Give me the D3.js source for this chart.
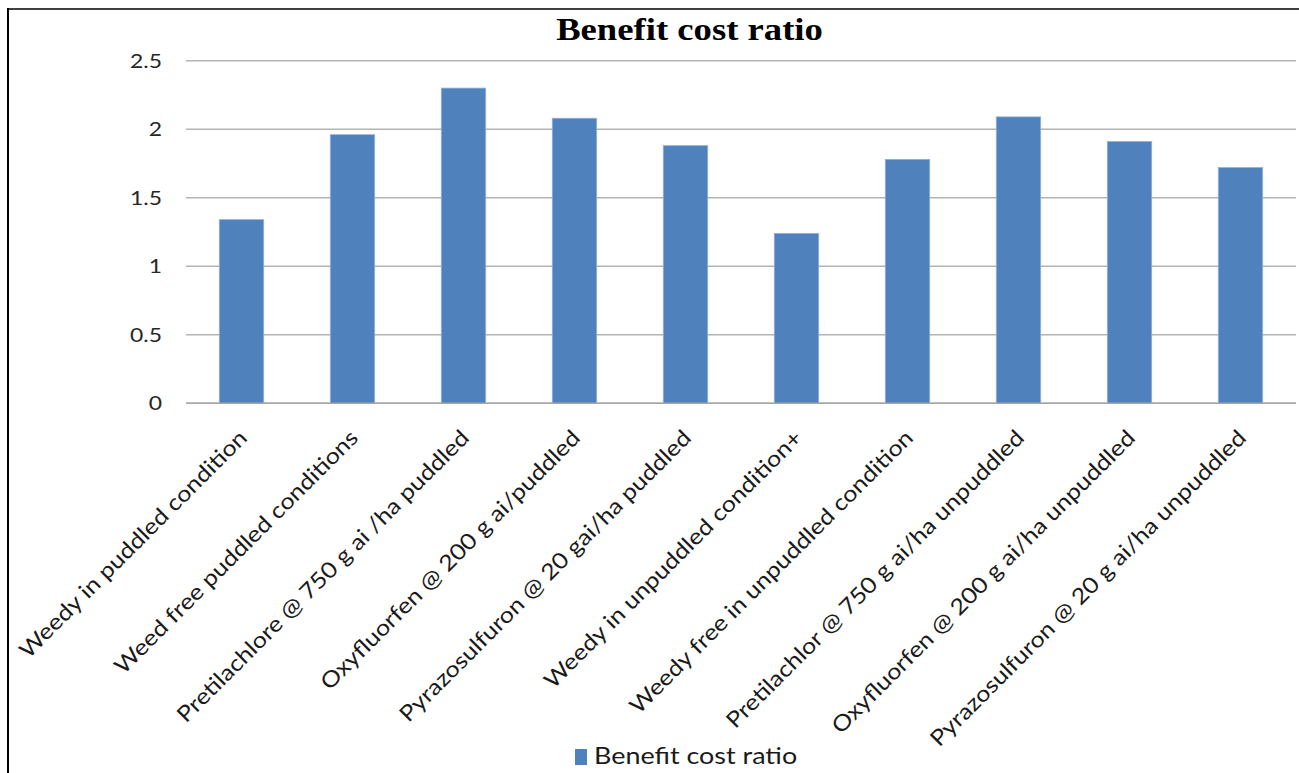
<!DOCTYPE html>
<html>
<head>
<meta charset="utf-8">
<script src="https://cdn.jsdelivr.net/npm/d3@7"></script>
<style>
  html, body { margin: 0; padding: 0; background: #ffffff; }
  svg { display: block; }
</style>
</head>
<body>
<svg id="chart" width="1299" height="773"></svg>
<script>
// Treatments (categories along the x axis)
const categories = [
  "Weedy in puddled condition",
  "Weed free puddled conditions",
  "Pretilachlore @ 750 g ai /ha puddled",
  "Oxyfluorfen @ 200 g ai/puddled",
  "Pyrazosulfuron @ 20 gai/ha puddled",
  "Weedy in unpuddled condition+",
  "Weedy free in unpuddled condition",
  "Pretilachlor @ 750 g ai/ha unpuddled",
  "Oxyfluorfen @ 200 g ai/ha unpuddled",
  "Pyrazosulfuron @ 20 g ai/ha unpuddled"
];

// Benefit cost ratio per treatment
const bcrValues = [1.34, 1.96, 2.30, 2.08, 1.88, 1.24, 1.78, 2.09, 1.91, 1.72];

// Value axis ticks
const yTicks = [0, 0.5, 1, 1.5, 2, 2.5];
const yTickLabels = ["0", "0.5", "1", "1.5", "2", "2.5"];

const seriesName = "Benefit cost ratio";
const chartTitle = "Benefit cost ratio";

const svg = d3.select("#chart");
const barColor = "#4f81bd";
const labelFont = "Lato, 'Open Sans', sans-serif";
// glyphs are drawn a little wider than the font's natural width
const sx = 1.146;

// outer frame (top and left edges)
svg.append("line").attr("x1", 8).attr("x2", 1299).attr("y1", 9).attr("y2", 9)
  .attr("stroke", "#404040").attr("stroke-width", 2);
svg.append("line").attr("x1", 8).attr("x2", 8).attr("y1", 8).attr("y2", 773)
  .attr("stroke", "#000000").attr("stroke-width", 2);

const plot = { left: 186, right: 1296, top: 60.7, bottom: 403.3 };

const x = d3.scaleBand()
  .domain(categories)
  .range([plot.left, plot.right])
  .paddingInner(0.6)
  .paddingOuter(0.3);

const y = d3.scaleLinear()
  .domain([0, 2.5])
  .range([plot.bottom, plot.top]);

// horizontal gridlines
svg.append("g")
  .selectAll("line")
  .data(yTicks)
  .join("line")
  .attr("x1", plot.left)
  .attr("x2", plot.right)
  .attr("y1", d => y(d))
  .attr("y2", d => y(d))
  .attr("stroke", "#b4b4b4")
  .attr("stroke-width", 1.6);

// value axis labels
const yAxis = d3.axisLeft(y)
  .tickValues(yTicks)
  .tickFormat((d, i) => yTickLabels[i])
  .tickSize(0)
  .tickPadding(24);

svg.append("g")
  .attr("transform", `translate(${plot.left},0)`)
  .call(yAxis)
  .call(g => g.select(".domain").remove())
  .selectAll("text")
  .attr("x", 0)
  .attr("transform", `translate(-24,0) scale(${sx},1)`)
  .attr("font-family", labelFont)
  .attr("font-size", 20)
  .attr("fill", "#262626");

// bars
svg.append("g")
  .selectAll("rect")
  .data(bcrValues)
  .join("rect")
  .attr("x", (d, i) => x(categories[i]))
  .attr("width", x.bandwidth())
  .attr("y", d => y(d))
  .attr("height", d => y(0) - y(d))
  .attr("fill", barColor)
  .attr("stroke", "#8eb0da")
  .attr("stroke-width", 0.8);

// baseline drawn over bars
svg.append("line")
  .attr("x1", plot.left).attr("x2", plot.right)
  .attr("y1", y(0)).attr("y2", y(0))
  .attr("stroke", "#a6a6a6").attr("stroke-width", 1.6);

// category axis with labels turned 45 degrees
const xAxis = d3.axisBottom(x).tickSize(0).tickPadding(0);
svg.append("g")
  .attr("transform", `translate(0,${plot.bottom})`)
  .call(xAxis)
  .call(g => g.select(".domain").remove())
  .selectAll("text")
  .attr("y", 0)
  .attr("dy", 0)
  .attr("font-family", labelFont)
  .attr("font-size", 22)
  .attr("fill", "#1a1a1a")
  .attr("text-anchor", "end")
  .attr("transform", `translate(7,36) rotate(-45) scale(${sx},1)`);

// title
svg.append("text")
  .attr("transform", `translate(689.5,40) scale(${sx},1)`)
  .attr("text-anchor", "middle")
  .attr("font-family", "'Liberation Serif', 'Times New Roman', serif")
  .attr("font-weight", "bold")
  .attr("font-size", 32)
  .attr("fill", "#000")
  .text(chartTitle);

// legend
const legend = svg.append("g").attr("transform", "translate(575,749)");
legend.append("rect").attr("width", 12).attr("height", 16).attr("fill", barColor);
legend.append("text")
  .attr("transform", `translate(19,15) scale(${sx},1)`)
  .attr("font-family", labelFont)
  .attr("font-size", 23.5)
  .attr("fill", "#1a1a1a")
  .text(seriesName);
</script>
</body>
</html>
